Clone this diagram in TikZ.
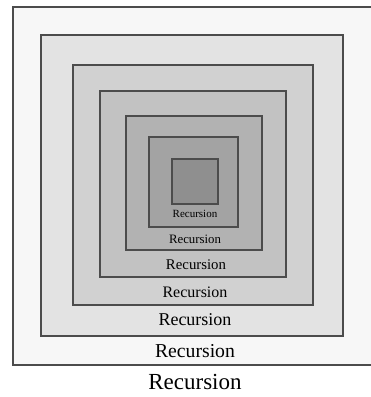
\documentclass[tikz,border=0pt]{standalone}
\usepackage{fontspec}
\setmainfont{Liberation Serif}
\begin{document}
\begin{tikzpicture}[x=1pt,y=-1pt,
  boxa/.style={draw=black!70, line width=1.2pt},
  lab/.style={inner sep=0pt, anchor=center, text=black}]
\useasboundingbox (0,0) rectangle (371,397);
\fill[white] (0,0) rectangle (371,397);
\begin{scope}
\clip (0,0) rectangle (371,397);
\path[boxa, fill=black!3] (13,7) rectangle (380,365);
\end{scope}
\path[boxa, fill=black!11] (41,35) rectangle (343,336);
\path[boxa, fill=black!18] (73,65) rectangle (313,305);
\path[boxa, fill=black!24] (100,91) rectangle (286,277);
\path[boxa, fill=black!30] (126,116) rectangle (262,250);
\path[boxa, fill=black!36] (149,137) rectangle (238,227);
\path[boxa, fill=black!44] (172,159) rectangle (218,204);
\node[lab, font=\fontsize{11}{11}\selectfont] (l7) at (195,214) {Recursion};
\node[lab, font=\fontsize{12.8}{13}\selectfont] (l6) at (195,239) {Recursion};
\node[lab, font=\fontsize{14.8}{15}\selectfont] (l5) at (196,265) {Recursion};
\node[lab, font=\fontsize{16}{16}\selectfont] (l4) at (195,292) {Recursion};
\node[lab, font=\fontsize{18}{18}\selectfont] (l3) at (195,320) {Recursion};
\node[lab, font=\fontsize{19.7}{20}\selectfont] (l2) at (195,351) {Recursion};
\node[lab, font=\fontsize{23}{23}\selectfont] (l1) at (195,382) {Recursion};
\end{tikzpicture}
\end{document}
